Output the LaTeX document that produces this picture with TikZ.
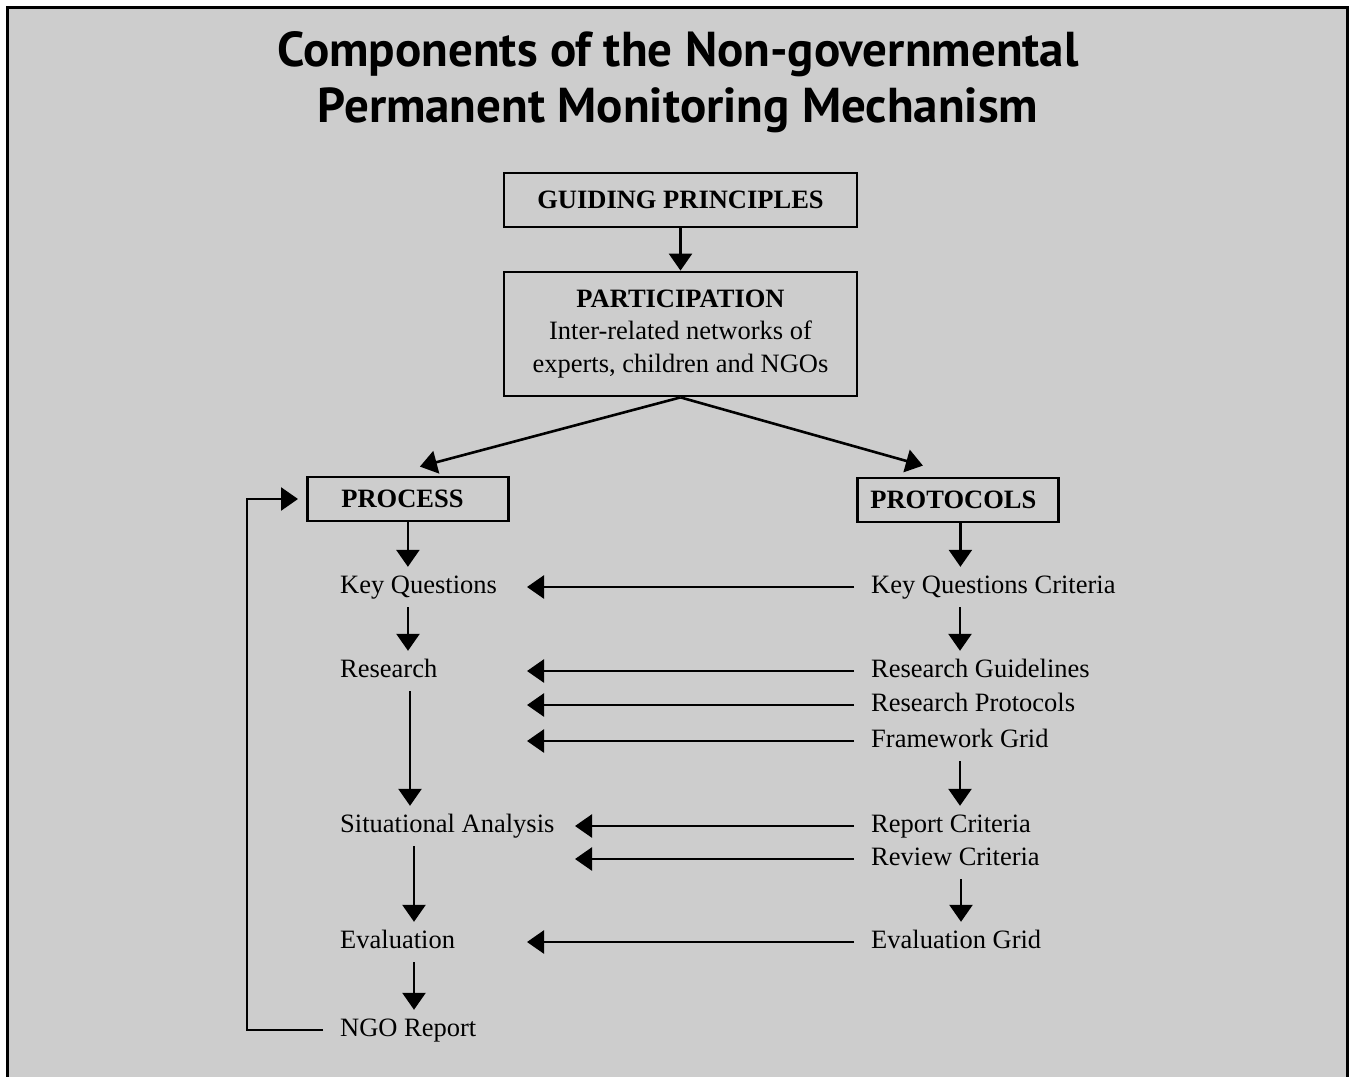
\documentclass[tikz,border=0pt]{standalone}
\usepackage{fontspec}
\setmainfont{Liberation Serif}
\newfontfamily\titlefont{PT Sans}
\usepackage{xcolor}
\usetikzlibrary{arrows.meta, positioning, calc}
\definecolor{panelgray}{RGB}{205,205,205}

\begin{document}
\begin{tikzpicture}[x=1pt, y=-1pt,
        box/.style={rectangle, draw=black, line width=2.8pt, align=center, inner sep=0pt, font=\fontsize{26.5}{32.5}\selectfont\bfseries},
        item/.style={anchor=west, inner xsep=17pt, inner ysep=8pt, text height=18pt, text depth=6pt, font=\fontsize{26.5}{32.5}\selectfont},
        arrow/.style={-{Triangle[length=17pt, width=23pt]}, line width=2.6pt, draw=black}
    ]
    \useasboundingbox (0,0) rectangle (1349,1076);

    % Panel
    \draw[fill=panelgray, line width=3pt] (7,1100) -- (7,7) -- (1347,7) -- (1347,1100);
    \node[align=center, inner sep=0pt, font=\titlefont\bfseries\fontsize{49}{56}\selectfont] (title) at (678,82) {Components of the Non-governmental\\Permanent Monitoring Mechanism};

    % Top boxes
    \node[box, minimum width=353pt, minimum height=54pt] (guiding_box) at (680.5,200) {GUIDING PRINCIPLES};
    \node[box, minimum width=353pt, minimum height=124pt] (particip_box) at (680.5,334) {PARTICIPATION\\\mdseries Inter-related networks of\\\mdseries experts, children and NGOs};
    \draw[arrow] (guiding_box) -- (particip_box);

    \node[box, anchor=west, align=left, text width=133pt, inner xsep=34pt, minimum height=44pt] (process_box) at (306,499) {PROCESS};
    \node[box, anchor=west, align=left, text width=175pt, inner xsep=13pt, minimum height=44pt] (protocols_box) at (856,500) {PROTOCOLS};
    \draw[arrow] (particip_box.south) -- ([xshift=12pt, yshift=9pt]process_box.north);
    \draw[arrow] (particip_box.south) -- ([xshift=-35pt, yshift=11pt]protocols_box.north);

    % Process column
    \node[item] (key_q) at (323,587) {Key Questions};
    \node[item] (research) at (323,671) {Research};
    \node[item] (sit_analysis) at (323,826) {Situational Analysis};
    \node[item] (evaluation) at (323,942) {Evaluation};
    \node[item] (ngo_report) at (323,1030) {NGO Report};
    \draw[arrow] (process_box.south) -- (process_box.south |- key_q.north);
    \draw[arrow] ([xshift=85pt]key_q.south west) -- ([xshift=85pt]research.north west);
    \draw[arrow] ([xshift=87pt]research.south west) -- ([xshift=87pt]sit_analysis.north west);
    \draw[arrow] ([xshift=91pt]sit_analysis.south west) -- ([xshift=91pt]evaluation.north west);
    \draw[arrow] ([xshift=91pt]evaluation.south west) -- ([xshift=91pt]ngo_report.north west);
    \draw[arrow] (ngo_report.west) -- ++(-76,0) |- ([xshift=-8pt]process_box.west);

    % Protocols column
    \node[item] (kq_criteria) at (854,587) {Key Questions Criteria};
    \node[item] (res_guide) at (854,671) {Research Guidelines};
    \node[item] (res_protocols) at (854,705) {Research Protocols};
    \node[item] (framework_grid) at (854,741) {Framework Grid};
    \node[item] (report_crit) at (854,826) {Report Criteria};
    \node[item] (review_crit) at (854,859) {Review Criteria};
    \node[item] (eval_grid) at (854,942) {Evaluation Grid};
    \draw[arrow] ([xshift=2.5pt]protocols_box.south) -- ([xshift=2.5pt]protocols_box.south |- kq_criteria.north);
    \draw[arrow] ([xshift=106pt]kq_criteria.south west) -- ([xshift=106pt]res_guide.north west);
    \draw[arrow] ([xshift=106pt]framework_grid.south west) -- ([xshift=106pt]report_crit.north west);
    \draw[arrow] ([xshift=107pt]review_crit.south west) -- ([xshift=107pt]eval_grid.north west);

    % Links across
    \coordinate (tip_left) at (527,0);
    \coordinate (tip_mid) at (575,0);
    \draw[arrow] (kq_criteria.west) -- (kq_criteria.west -| tip_left);
    \draw[arrow] (res_guide.west) -- (res_guide.west -| tip_left);
    \draw[arrow] (res_protocols.west) -- (res_protocols.west -| tip_left);
    \draw[arrow] (framework_grid.west) -- (framework_grid.west -| tip_left);
    \draw[arrow] (report_crit.west) -- (report_crit.west -| tip_mid);
    \draw[arrow] (review_crit.west) -- (review_crit.west -| tip_mid);
    \draw[arrow] (eval_grid.west) -- (eval_grid.west -| tip_left);

\end{tikzpicture}
\end{document}
